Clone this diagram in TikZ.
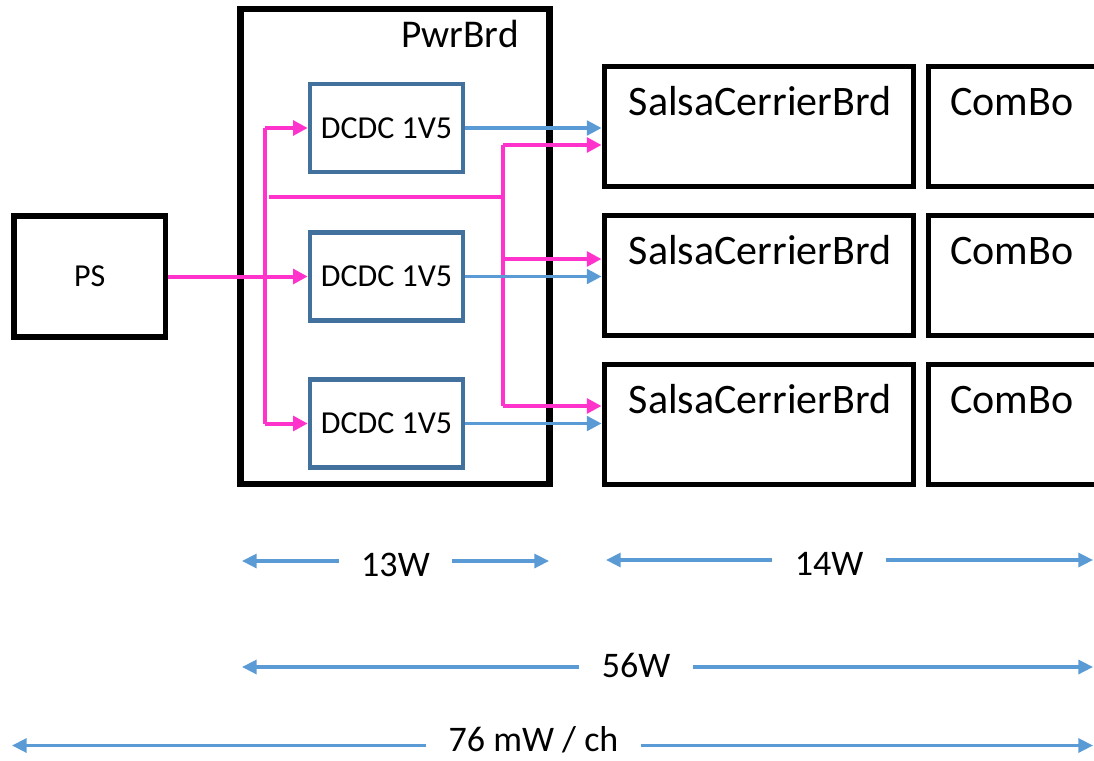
\documentclass[tikz,border=0pt]{standalone}
\usepackage{fontspec}
\setmainfont{Carlito}
\usetikzlibrary{arrows.meta}
\definecolor{mag}{HTML}{FF33CC}
\definecolor{lblue}{HTML}{5B9BD5}
\definecolor{dblue}{HTML}{41719C}
\begin{document}
\begin{tikzpicture}[x=0.75pt,y=-0.75pt,
  blkbox/.style={draw=black, fill=none, inner sep=0pt},
  dcbox/.style={draw=dblue, line width=3.4pt, inner sep=0pt,
    minimum width=153*0.75pt, minimum height=88*0.75pt,
    font=\fontsize{24}{28}\selectfont},
  sbox/.style={blkbox, line width=3.75pt,
    minimum width=309.5*0.75pt, minimum height=119.5*0.75pt},
  cbox/.style={blkbox, line width=3.75pt,
    minimum width=182*0.75pt, minimum height=119.5*0.75pt},
  bigtxt/.style={anchor=base, inner sep=0pt, font=\fontsize{31.5}{36}\selectfont},
  tri/.style={-{Triangle[length=11pt,width=11pt]}},
  magline/.style={draw=mag, line width=3pt},
  blueline/.style={draw=lblue, line width=2.4pt},
  dimarr/.style={draw=lblue, line width=2.4pt, -{Triangle[length=11pt,width=10.5pt]}},
  dimtxt/.style={anchor=base, inner xsep=16.5pt, inner ysep=0pt,
    font=\fontsize{27}{32}\selectfont}
]
\useasboundingbox (0,0) rectangle (1094,760);
\clip (0,0) rectangle (1094,760);

% boxes
\node[blkbox, line width=4.1pt, minimum width=151.5*0.75pt, minimum height=121*0.75pt,
  font=\fontsize{24}{28}\selectfont] (ps) at (89.75,276.5) {PS};
\node[blkbox, line width=4.9pt, minimum width=309*0.75pt, minimum height=475*0.75pt]
  (pwr) at (395,246.5) {};
\node[anchor=base east, inner sep=0pt, font=\fontsize{29.5}{34}\selectfont]
  (pwrlbl) at (519,47) {PwrBrd};

\node[dcbox] (d1) at (386.5,128) {DCDC 1V5};
\node[dcbox] (d2) at (386.5,276.5) {DCDC 1V5};
\node[dcbox] (d3) at (386.5,423.5) {DCDC 1V5};

\node[sbox] (s1) at (758.75,126.25) {};
\node[sbox] (s2) at (758.75,275.25) {};
\node[sbox] (s3) at (758.75,424.25) {};
\node[cbox] (c1) at (1019,126.25) {};
\node[cbox] (c2) at (1019,275.25) {};
\node[cbox] (c3) at (1019,424.25) {};

\node[bigtxt] (s1t) at (760,115) {SalsaCerrierBrd};
\node[bigtxt] (s2t) at (760,264) {SalsaCerrierBrd};
\node[bigtxt] (s3t) at (760,413) {SalsaCerrierBrd};
\node[bigtxt] (c1t) at (1012,115) {ComBo};
\node[bigtxt] (c2t) at (1012,264) {ComBo};
\node[bigtxt] (c3t) at (1012,413) {ComBo};

% magenta distribution
\coordinate (jx) at (265,0);
\coordinate (hA) at (269,197);
\coordinate (hB) at (503,197);
\coordinate (m1) at (503,145);
\coordinate (m2) at (503,259);
\coordinate (m3) at (503,406);

\draw[magline, tri] (ps.east) -- (d2.west);
\draw[magline] (d1.west -| jx) -- (d3.west -| jx);
\draw[magline, tri] (d1.west -| jx) -- (d1.west);
\draw[magline, tri] (d3.west -| jx) -- (d3.west);
\draw[magline] (hA) -- (hB);
\draw[magline] (m1) -- (m3);
\draw[magline, tri] (m1) -- (m1 -| s1.west);
\draw[magline, tri] (m2) -- (m2 -| s2.west);
\draw[magline, tri] (m3) -- (m3 -| s3.west);

% blue outputs
\draw[blueline, tri] (d1.east) -- (d1.east -| s1.west);
\draw[blueline, tri] (d2.east) -- (d2.east -| s2.west);
\draw[blueline, tri] (d3.east) -- (d3.east -| s3.west);

% dimensions
\coordinate (a13L) at (242,561); \coordinate (a13R) at (549,561);
\node[dimtxt] (t13) at (395.5,576) {13W};
\draw[dimarr] (t13.west |- a13L) -- (a13L);
\draw[dimarr] (t13.east |- a13R) -- (a13R);

\coordinate (a14L) at (606,560); \coordinate (a14R) at (1093,560);
\node[dimtxt] (t14) at (829,575) {14W};
\draw[dimarr] (t14.west |- a14L) -- (a14L);
\draw[dimarr] (t14.east |- a14R) -- (a14R);

\coordinate (a56L) at (242,667); \coordinate (a56R) at (1093,667);
\node[dimtxt] (t56) at (636,677) {56W};
\draw[dimarr] (t56.west |- a56L) -- (a56L);
\draw[dimarr] (t56.east |- a56R) -- (a56R);

\coordinate (a76L) at (12,745.5); \coordinate (a76R) at (1093,745.5);
\node[dimtxt] (t76) at (533.5,751) {76 mW / ch};
\draw[dimarr] (t76.west |- a76L) -- (a76L);
\draw[dimarr] (t76.east |- a76R) -- (a76R);
\end{tikzpicture}
\end{document}
